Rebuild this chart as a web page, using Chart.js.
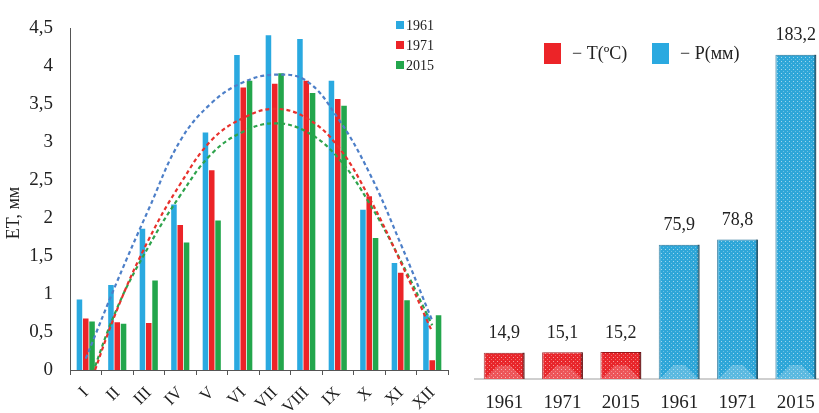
<!DOCTYPE html>
<html>
<head>
<meta charset="utf-8">
<script src="https://cdn.jsdelivr.net/npm/chart.js@4.4.1/dist/chart.umd.min.js"></script>
<style>
  html, body { margin: 0; padding: 0; background: #fff; overflow: hidden; }
  #wrap { position: relative; width: 819px; height: 413px; overflow: hidden; background: #fff; }
  #etChart { position: absolute; left: 0; top: 0; }
  #tpChart { position: absolute; left: 460px; top: 0; }
</style>
</head>
<body>
<div id="wrap">
  <canvas id="etChart" width="460" height="413"></canvas>
  <canvas id="tpChart" width="366" height="413"></canvas>
</div>
<script>
/* ------------------------------------------------------------
   Data
   ------------------------------------------------------------ */
const months = ['I', 'II', 'III', 'IV', 'V', 'VI', 'VII', 'VIII', 'IX', 'X', 'XI', 'XII'];
const seriesYears = ['1961', '1971', '2015'];

const et1961 = [0.93, 1.12, 1.86, 2.18, 3.13, 4.15, 4.41, 4.36, 3.81, 2.11, 1.41, 0.74];
const et1971 = [0.68, 0.63, 0.62, 1.91, 2.63, 3.72, 3.77, 3.81, 3.57, 2.29, 1.28, 0.13];
const et2015 = [0.64, 0.61, 1.18, 1.68, 1.97, 3.81, 3.91, 3.65, 3.48, 1.74, 0.92, 0.72];

// dashed trend lines at each month
const trend1961 = [0.15, 1.17, 2.12, 3.02, 3.52, 3.79, 3.89, 3.81, 3.32, 2.60, 1.66, 0.65];
const trend1971 = [-0.35, 0.80, 1.72, 2.45, 3.03, 3.32, 3.44, 3.32, 2.95, 2.27, 1.42, 0.50];
const trend2015 = [-0.30, 0.82, 1.63, 2.30, 2.85, 3.14, 3.25, 3.14, 2.80, 2.20, 1.44, 0.59];

const etTickStep = 0.5;
const etMax = 4.5;

const tpYears = ['1961', '1971', '2015', '1961', '1971', '2015'];
const tempT = [14.9, 15.1, 15.2, null, null, null];
const precP = [null, null, null, 75.9, 78.8, 183.2];
const tpLabels = ['\u2212 T(\u00baC)', '\u2212 P(\u043c\u043c)'];

/* ------------------------------------------------------------
   Helpers
   ------------------------------------------------------------ */
const SERIF = '"Liberation Serif", "Times New Roman", serif';
const BLUE = '#2aa9e0', RED = '#ec2428', GREEN = '#23a64c';

const fmt = v => String(v).replace('.', ',');

function dotPattern(base) {
  const c = document.createElement('canvas');
  c.width = 4; c.height = 4;
  const g = c.getContext('2d');
  g.fillStyle = base;
  g.fillRect(0, 0, 4, 4);
  g.fillStyle = 'rgba(255,255,255,0.55)';
  g.fillRect(1, 1, 1, 1);
  g.fillStyle = 'rgba(255,255,255,0.3)';
  g.fillRect(3, 3, 1, 1);
  return g.createPattern(c, 'repeat');
}

/* ------------------------------------------------------------
   Left chart: ET by month
   ------------------------------------------------------------ */
const etDecor = {
  id: 'etDecor',
  afterDraw(chart) {
    const { ctx } = chart;
    ctx.save();
    // y title
    ctx.font = '18px ' + SERIF;
    ctx.fillStyle = '#222';
    ctx.textAlign = 'center';
    ctx.textBaseline = 'middle';
    ctx.translate(14, 213);
    ctx.rotate(-Math.PI / 2);
    ctx.fillText('ET, \u043c\u043c', 0, 0);
    ctx.restore();

    // legend (bars only)
    ctx.save();
    ctx.font = '14px ' + SERIF;
    ctx.textAlign = 'left';
    ctx.textBaseline = 'middle';
    [BLUE, RED, GREEN].forEach((col, i) => {
      const y = 25 + i * 20;
      ctx.fillStyle = col;
      ctx.fillRect(396, y - 4, 8, 8);
      ctx.fillStyle = '#222';
      ctx.fillText(seriesYears[i], 406, y + 1);
    });
    ctx.restore();
  }
};

const trendStyle = col => ({
  type: 'line',
  borderColor: col,
  borderWidth: 2.2,
  borderDash: [4, 3],
  pointRadius: 0,
  tension: 0.4,
  fill: false,
  order: 0,
});

new Chart(document.getElementById('etChart'), {
  type: 'bar',
  data: {
    labels: months,
    datasets: [
      { label: '1961', data: et1961, backgroundColor: BLUE, order: 1 },
      { label: '1971', data: et1971, backgroundColor: RED, order: 1 },
      { label: '2015', data: et2015, backgroundColor: GREEN, order: 1 },
      { label: 'trend 1961', data: trend1961, ...trendStyle('#4d7fc8') },
      { label: 'trend 1971', data: trend1971, ...trendStyle('#e8312d') },
      { label: 'trend 2015', data: trend2015, ...trendStyle('#2ea34c') },
    ],
  },
  options: {
    responsive: false,
    animation: false,
    devicePixelRatio: 1,
    layout: { padding: { top: 16, right: 12, left: 0, bottom: 0 } },
    datasets: { bar: { categoryPercentage: 0.6, barPercentage: 0.88 } },
    plugins: { legend: { display: false }, tooltip: { enabled: false } },
    scales: {
      x: {
        grid: { display: true, drawOnChartArea: false, drawTicks: true, tickLength: 5, color: '#555', offset: true },
        border: { display: true, color: '#555', width: 1 },
        ticks: {
          font: { family: SERIF, size: 17 },
          color: '#222',
          minRotation: 45, maxRotation: 45,
          padding: 8,
          autoSkip: false,
        },
        afterFit: s => { s.height = 43; },
      },
      y: {
        min: 0, max: etMax,
        grid: { display: false, drawTicks: false },
        border: { display: true, color: '#555', width: 1 },
        ticks: {
          stepSize: etTickStep,
          padding: 17,
          font: { family: SERIF, size: 19 },
          color: '#222',
          callback: v => fmt(v),
        },
        afterFit: s => { s.width = 70; },
      },
    },
  },
  plugins: [etDecor],
});

/* ------------------------------------------------------------
   Right chart: T and P
   ------------------------------------------------------------ */
const tpDecor = {
  id: 'tpDecor',
  afterDatasetsDraw(chart) {
    const { ctx } = chart;
    ctx.save();
    chart.data.datasets.forEach((ds, di) => {
      chart.getDatasetMeta(di).data.forEach((bar, i) => {
        if (ds.data[i] == null) return;
        const { x, y, base, width } = bar.getProps(['x', 'y', 'base', 'width'], true);
        const l = x - width / 2, r = x + width / 2, h = base - y;
        const bv = Math.min(14, h / 2);
        // bevel: light bottom face, dark right edge
        ctx.fillStyle = 'rgba(255,255,255,0.22)';
        ctx.beginPath();
        ctx.moveTo(l + 1, base);
        ctx.lineTo(r - 1, base);
        ctx.lineTo(r - 1 - bv, base - bv);
        ctx.lineTo(l + 1 + bv, base - bv);
        ctx.closePath();
        ctx.fill();
        ctx.fillStyle = 'rgba(0,0,0,0.35)';
        ctx.fillRect(r - 2, y, 2, h);
        ctx.fillStyle = 'rgba(255,255,255,0.2)';
        ctx.fillRect(l, y, 2, h);
        // value label
        ctx.fillStyle = '#222';
        ctx.font = '18px ' + SERIF;
        ctx.textAlign = 'center';
        ctx.textBaseline = 'middle';
        ctx.fillText(fmt(ds.data[i]), x, y - 19);
      });
    });

    // legend
    ctx.font = '18px ' + SERIF;
    ctx.textAlign = 'left';
    ctx.textBaseline = 'middle';
    const boxX = [84, 192];
    const cols = [RED, BLUE];
    tpLabels.forEach((t, i) => {
      ctx.fillStyle = cols[i];
      ctx.fillRect(boxX[i], 43, 17, 21);
      ctx.fillStyle = '#222';
      ctx.fillText(t, boxX[i] + 28, 54);
    });
    ctx.restore();
  }
};

new Chart(document.getElementById('tpChart'), {
  type: 'bar',
  data: {
    labels: tpYears,
    datasets: [
      { label: tpLabels[0], data: tempT, backgroundColor: dotPattern('#e8262b'), borderColor: '#9a1518', borderWidth: 1 },
      { label: tpLabels[1], data: precP, backgroundColor: dotPattern('#2ea6d8'), borderColor: '#1d6d93', borderWidth: 1 },
    ],
  },
  options: {
    responsive: false,
    animation: false,
    devicePixelRatio: 1,
    layout: { padding: { top: 25, left: 15, right: 1, bottom: 0 } },
    datasets: { bar: { grouped: false, categoryPercentage: 0.7, barPercentage: 1 } },
    plugins: { legend: { display: false }, tooltip: { enabled: false } },
    scales: {
      x: {
        grid: { display: false },
        border: { display: true, color: '#cfcfcf', width: 2 },
        ticks: { font: { family: SERIF, size: 19 }, color: '#222', padding: 5 },
        afterFit: s => { s.height = 34; },
      },
      y: { display: false, min: 0, max: 200 },
    },
  },
  plugins: [tpDecor],
});
</script>
</body>
</html>
